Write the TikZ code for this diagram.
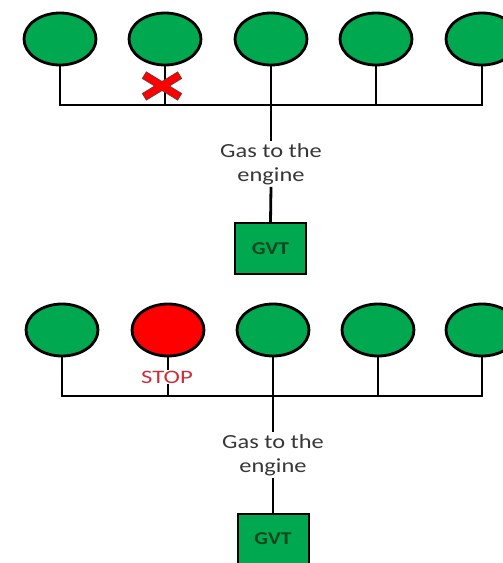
\documentclass[tikz,border=0pt]{standalone}
\usepackage{fontspec}
\setmainfont{Carlito}
\usetikzlibrary{shapes.geometric}
\definecolor{leafgreen}{RGB}{0,168,80}
\definecolor{stopred}{RGB}{255,0,0}
\definecolor{labelred}{RGB}{205,45,55}
\definecolor{darkgreen}{RGB}{10,70,30}
\definecolor{labelgray}{RGB}{55,55,55}
\tikzset{
  valve/.style={ellipse, draw=black, line width=2.8pt, fill=leafgreen,
    minimum width=72pt, minimum height=52pt, inner sep=0pt},
  shut/.style={valve, fill=stopred},
  pipe/.style={draw=black, line width=2.8pt},
  flowtext/.style={align=center, text=labelgray, font=\fontsize{20}{24}\selectfont,
    inner sep=2pt, xscale=1.22, transform shape},
  gvtbox/.style={draw=black, line width=2pt, fill=leafgreen, inner sep=0pt,
    minimum width=71pt, minimum height=51pt, text=darkgreen,
    font=\fontsize{18}{20}\selectfont\bfseries},
  crossmark/.style={line width=7pt, draw=stopred}
}
\begin{document}
\begin{tikzpicture}[x=1pt,y=-1pt]
  \useasboundingbox (0,0) rectangle (503,563);
  \fill[white] (0,0) rectangle (503,563);

  % ---- upper layout: one valve closed by a cross ----
  \node[valve] (t1) at (60,39) {};
  \node[valve] (t2) at (165,39) {};
  \node[valve] (t3) at (271,39) {};
  \node[valve] (t4) at (376,39) {};
  \node[valve] (t5) at (482,39) {};
  \coordinate (tbus) at (0,105);
  \draw[pipe] (t1.south) |- (tbus -| t5.south) -- (t5.south);
  \draw[pipe] (t2.south) -- (t2.south |- tbus);
  \draw[pipe] (t4.south) -- (t4.south |- tbus);
  \node[flowtext] (tgas) at (271,164) {Gas to the\\engine};
  \node[gvtbox] (tgvt) at (270.5,248.5) {\scalebox{1.2}[1]{GVT}};
  \draw[pipe] (t3.south) -- (tgas.north);
  \draw[pipe] (tgas.south) -- (tgvt.north);

  % red cross over the closed branch
  \coordinate (xc) at (162,86);
  \begin{scope}[line cap=butt]
    \draw[line width=8.5pt, draw=black!70] ([shift={(-18,-11)}]xc) -- ([shift={(18,11)}]xc);
    \draw[line width=8.5pt, draw=black!70] ([shift={(-18,11)}]xc) -- ([shift={(18,-11)}]xc);
    \draw[crossmark] ([shift={(-17.5,-10.7)}]xc) -- ([shift={(17.5,10.7)}]xc);
    \draw[crossmark] ([shift={(-17.5,10.7)}]xc) -- ([shift={(17.5,-10.7)}]xc);
  \end{scope}

  % ---- lower layout: one valve shown stopped ----
  \node[valve] (b1) at (62,330) {};
  \node[shut]  (b2) at (168,330) {};
  \node[valve] (b3) at (273,330) {};
  \node[valve] (b4) at (378,330) {};
  \node[valve] (b5) at (482,330) {};
  \coordinate (bbus) at (0,396);
  \draw[pipe] (b1.south) |- (bbus -| b5.south) -- (b5.south);
  \draw[pipe] (b4.south) -- (b4.south |- bbus);
  \node[text=labelred, font=\fontsize{19}{21}\selectfont, inner sep=1pt,
        xscale=1.3, transform shape] (stop) at (167,377) {STOP};
  \draw[pipe] (b2.south) -- (stop.north -| b2.south);
  \draw[pipe] (stop.south -| b2.south) -- (b2.south |- bbus);
  \node[flowtext] (bgas) at (273,455) {Gas to the\\engine};
  \node[gvtbox] (bgvt) at (273,539) {\scalebox{1.2}[1]{GVT}};
  \draw[pipe] (b3.south) -- (bgas.north);
  \draw[pipe] (bgas.south) -- (bgvt.north);
\end{tikzpicture}
\end{document}
